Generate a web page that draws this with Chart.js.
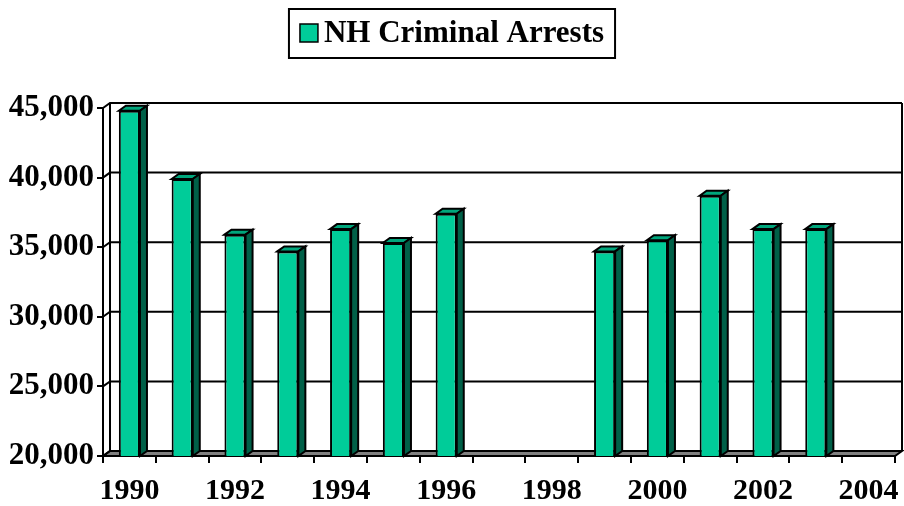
<!DOCTYPE html>
<html>
<head>
<meta charset="utf-8">
<script src="https://cdn.jsdelivr.net/npm/chart.js@4"></script>
<style>
  body { margin: 0; background: #fff; }
  canvas { display: block; }
</style>
</head>
<body>
<canvas id="grafico" width="904" height="506"></canvas>
<script>
// dados
const anos = ["1990", "1991", "1992", "1993", "1994", "1995", "1996", "1997",
  "1998", "1999", "2000", "2001", "2002", "2003", "2004"];
const prisoes = [44800, 39900, 35900, 34700, 36300, 35300, 37400, null,
  null, 34700, 35500, 38700, 36300, 36300, null];
const marcasY = [20000, 25000, 30000, 35000, 40000, 45000];

const FONTE = '"Liberation Serif", "Times New Roman", serif';
const DX = 7; // profundidade 3D
const DY = 5;

// parede do fundo, chão e faces laterais das barras
const efeito3D = {
  id: "efeito3D",
  beforeDatasetsDraw(chart) {
    const { ctx, chartArea: a, scales } = chart;
    const y = scales.y;
    ctx.save();
    ctx.strokeStyle = "#000";
    ctx.lineWidth = 2;

    // chão
    ctx.fillStyle = "#808080";
    ctx.beginPath();
    ctx.moveTo(a.left, a.bottom);
    ctx.lineTo(a.right, a.bottom);
    ctx.lineTo(a.right + DX, a.bottom - DY);
    ctx.lineTo(a.left + DX, a.bottom - DY);
    ctx.closePath();
    ctx.fill();
    ctx.stroke();

    // linhas de grade na parede do fundo
    marcasY.forEach((v) => {
      const py = y.getPixelForValue(v);
      ctx.beginPath();
      ctx.moveTo(a.left, py);
      ctx.lineTo(a.left + DX, py - DY);
      ctx.lineTo(a.right + DX, py - DY);
      ctx.stroke();
    });

    // bordas verticais da parede
    ctx.beginPath();
    ctx.moveTo(a.left + DX, a.top - DY);
    ctx.lineTo(a.left + DX, a.bottom - DY);
    ctx.moveTo(a.right + DX, a.top - DY);
    ctx.lineTo(a.right + DX, a.bottom - DY);
    ctx.stroke();
    ctx.restore();
  },
  afterDatasetsDraw(chart) {
    const { ctx, chartArea: a } = chart;
    const meta = chart.getDatasetMeta(0);
    ctx.save();
    ctx.strokeStyle = "#000";
    ctx.lineWidth = 2;
    ctx.lineJoin = "miter";
    meta.data.forEach((bar, i) => {
      if (prisoes[i] == null) return;
      const p = bar.getProps(["x", "y", "width", "base"], true);
      const base = Math.min(p.base, a.bottom);
      const y = p.y;
      const esq = p.x - p.width / 2;
      const dir = p.x + p.width / 2;

      // topo
      ctx.fillStyle = "#00A67C";
      ctx.beginPath();
      ctx.moveTo(esq, y);
      ctx.lineTo(esq + DX, y - DY);
      ctx.lineTo(dir + DX, y - DY);
      ctx.lineTo(dir, y);
      ctx.closePath();
      ctx.fill();
      ctx.stroke();

      // lado
      ctx.fillStyle = "#006048";
      ctx.beginPath();
      ctx.moveTo(dir, y);
      ctx.lineTo(dir + DX, y - DY);
      ctx.lineTo(dir + DX, base - DY);
      ctx.lineTo(dir, base);
      ctx.closePath();
      ctx.fill();
      ctx.stroke();
    });
    ctx.restore();
  },
};

// legenda com moldura
const legendaMoldura = {
  id: "legendaMoldura",
  afterDraw(chart) {
    const { ctx } = chart;
    const ds = chart.data.datasets[0];
    ctx.save();
    ctx.font = "bold 31px " + FONTE;
    const w = ctx.measureText(ds.label).width;
    const caixa = 18;
    const total = caixa + 6 + w;
    const cx = chart.width / 2;
    const inicio = cx - total / 2;
    const cy = 33;

    ctx.strokeStyle = "#000";
    ctx.lineWidth = 2;
    ctx.strokeRect(inicio - 11, 9, total + 22, 49);

    ctx.fillStyle = ds.backgroundColor;
    ctx.fillRect(inicio, cy - 9, caixa, caixa);
    ctx.lineWidth = 1.5;
    ctx.strokeRect(inicio, cy - 9, caixa, caixa);

    ctx.fillStyle = "#000";
    ctx.textBaseline = "middle";
    ctx.fillText(ds.label, inicio + caixa + 6, cy + 1);
    ctx.restore();
  },
};

new Chart(document.getElementById("grafico"), {
  type: "bar",
  data: {
    labels: anos,
    datasets: [
      {
        label: "NH Criminal Arrests",
        data: prisoes,
        backgroundColor: "#00CC99",
        borderColor: "#000",
        borderWidth: 2,
        borderSkipped: false,
        barPercentage: 0.4,
        categoryPercentage: 1,
      },
    ],
  },
  options: {
    responsive: false,
    animation: false,
    devicePixelRatio: 1,
    layout: { padding: { top: 108, right: 9, left: 0, bottom: 0 } },
    plugins: {
      legend: { display: false },
      tooltip: { enabled: false },
    },
    scales: {
      x: {
        offset: true,
        grid: {
          offset: true,
          drawOnChartArea: false,
          drawTicks: true,
          tickLength: 7,
          color: "#000",
          lineWidth: 2,
        },
        border: { color: "#000", width: 2 },
        ticks: {
          autoSkip: false,
          maxRotation: 0,
          padding: 10,
          color: "#000",
          font: { family: FONTE, size: 30, weight: "bold" },
          callback: (v, i) => (i % 2 === 0 ? anos[i] : ""),
        },
        afterFit: (s) => {
          s.height = 50;
          s.paddingLeft = 0;
          s.paddingRight = 0;
        },
      },
      y: {
        min: 20000,
        max: 45000,
        ticks: {
          stepSize: 5000,
          padding: 3,
          color: "#000",
          font: { family: FONTE, size: 31, weight: "bold" },
        },
        grid: {
          drawOnChartArea: false,
          drawTicks: true,
          tickLength: 6,
          color: "#000",
          lineWidth: 2,
        },
        border: { color: "#000", width: 2 },
        afterFit: (s) => { s.width = 103; },
      },
    },
  },
  plugins: [efeito3D, legendaMoldura],
});
</script>
</body>
</html>
